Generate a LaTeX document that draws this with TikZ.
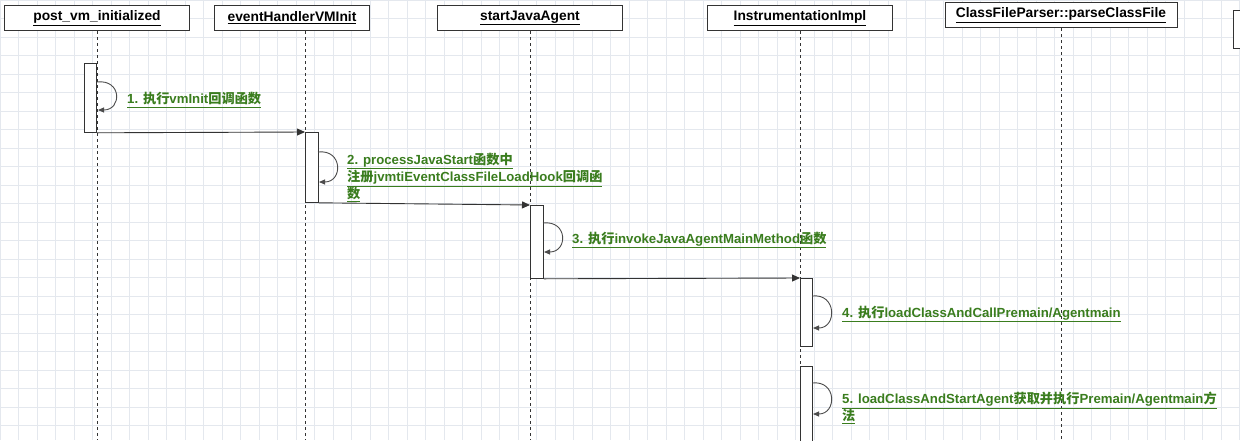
\documentclass[tikz,border=0pt]{standalone}
\usepackage{fontspec}
\setmainfont{Liberation Sans}
\newfontfamily\cjk{Noto Sans CJK SC Bold}
\usetikzlibrary{arrows.meta}
\definecolor{lbl}{RGB}{58,125,30}
\definecolor{gridc}{RGB}{228,232,238}
\newcommand{\zh}[1]{{\cjk #1}}
\tikzset{
  hdr/.style={draw=black!80, line width=0.8pt, fill=white, minimum height=25pt, inner sep=2pt, font=\bfseries\fontsize{13.8}{16}\selectfont},
  life/.style={dashed, line width=0.8pt, black!80},
  act/.style={draw=black!80, line width=0.8pt, fill=white},
  msg/.style={line width=0.9pt, black!80, -{Triangle[length=8pt,width=7pt]}},
  self/.style={line width=0.9pt, black!70, -{Triangle[length=6pt,width=5pt]}},
  lab/.style={anchor=west, text=lbl, font=\bfseries\fontsize{13.2}{16}\selectfont, align=left, inner sep=0pt}
}
\begin{document}
\begin{tikzpicture}[x=1pt,y=-1pt]
\useasboundingbox (0,0) rectangle (1240,440);
\fill[white] (0,0) rectangle (1240,440);
\draw[gridc, line width=0.5pt] (0,0) grid[step=18.5pt] (1240,440);
% headers
\node[hdr, minimum width=185pt] (h1) at (97,18) {\underline{post\_vm\_initialized}};
\node[hdr, minimum width=155pt] (h2) at (292,18) {\underline{eventHandlerVMInit}};
\node[hdr, minimum width=185pt] (h3) at (530,18) {\underline{startJavaAgent}};
\node[hdr, minimum width=185pt] (h4) at (800,18) {\underline{InstrumentationImpl}};
\node[hdr, minimum width=232pt] (h5) at (1061,15) {\underline{ClassFileParser::parseClassFile}};
\node[hdr, minimum width=60pt, minimum height=38pt, anchor=north west] (h6) at (1233,10) {};
\coordinate (e1) at (97,440); \coordinate (e2) at (305,440); \coordinate (e3) at (530,440);
\coordinate (e4) at (800,440); \coordinate (e5) at (1061,440);
\draw[life] (97,31) -- (e1);
\draw[life] (305,31) -- (e2);
\draw[life] (530,31) -- (e3);
\draw[life] (800,31) -- (e4);
\draw[life] (1061,28) -- (e5);
% activations
\node[act, minimum width=12pt, minimum height=69pt, anchor=north east, inner sep=0pt] (a1) at (97,63) {};
\node[act, minimum width=13pt, minimum height=70pt, anchor=north west, inner sep=0pt] (a2) at (305,132) {};
\node[act, minimum width=13pt, minimum height=73pt, anchor=north west, inner sep=0pt] (a3) at (530,205) {};
\node[act, minimum width=12pt, minimum height=68pt, anchor=north west, inner sep=0pt] (a4) at (800,278) {};
\node[act, minimum width=12pt, minimum height=80pt, anchor=north west, inner sep=0pt] (a5) at (800,366) {};
% messages
\draw[msg] (a1.south east) -- (a2.north west);
\draw[msg] (a2.south east) -- (a3.north west);
\draw[msg] (a3.south east) -- (a4.north west);
% self loops
\draw[self] (97,82) .. controls (122,79) and (122,110) .. (98,110);
\draw[self] (318,152) .. controls (343,149) and (343,182) .. (319,182);
\draw[self] (543,223) .. controls (568,220) and (568,252) .. (544,252);
\draw[self] (812,296) .. controls (837,293) and (837,328) .. (813,328);
\draw[self] (812,383) .. controls (837,380) and (837,414) .. (813,414);
% labels
\node[lab] (l1) at (127,100) {\underline{1. \zh{执行}vmInit\zh{回调函数}}};
\node[lab, anchor=north west] (l2) at (347,153) {\underline{2. processJavaStart\zh{函数中}}\\\underline{\zh{注册}jvmtiEventClassFileLoadHook\zh{回调函}}\\\underline{\zh{数}}};
\node[lab] (l3) at (572,240) {\underline{3. \zh{执行}invokeJavaAgentMainMethod\zh{函数}}};
\node[lab] (l4) at (842,314) {\underline{4. \zh{执行}loadClassAndCallPremain/Agentmain}};
\node[lab, anchor=north west] (l5) at (842,392) {\underline{5. loadClassAndStartAgent\zh{获取并执行}Premain/Agentmain\zh{方}}\\\underline{\zh{法}}};
\end{tikzpicture}
\end{document}
